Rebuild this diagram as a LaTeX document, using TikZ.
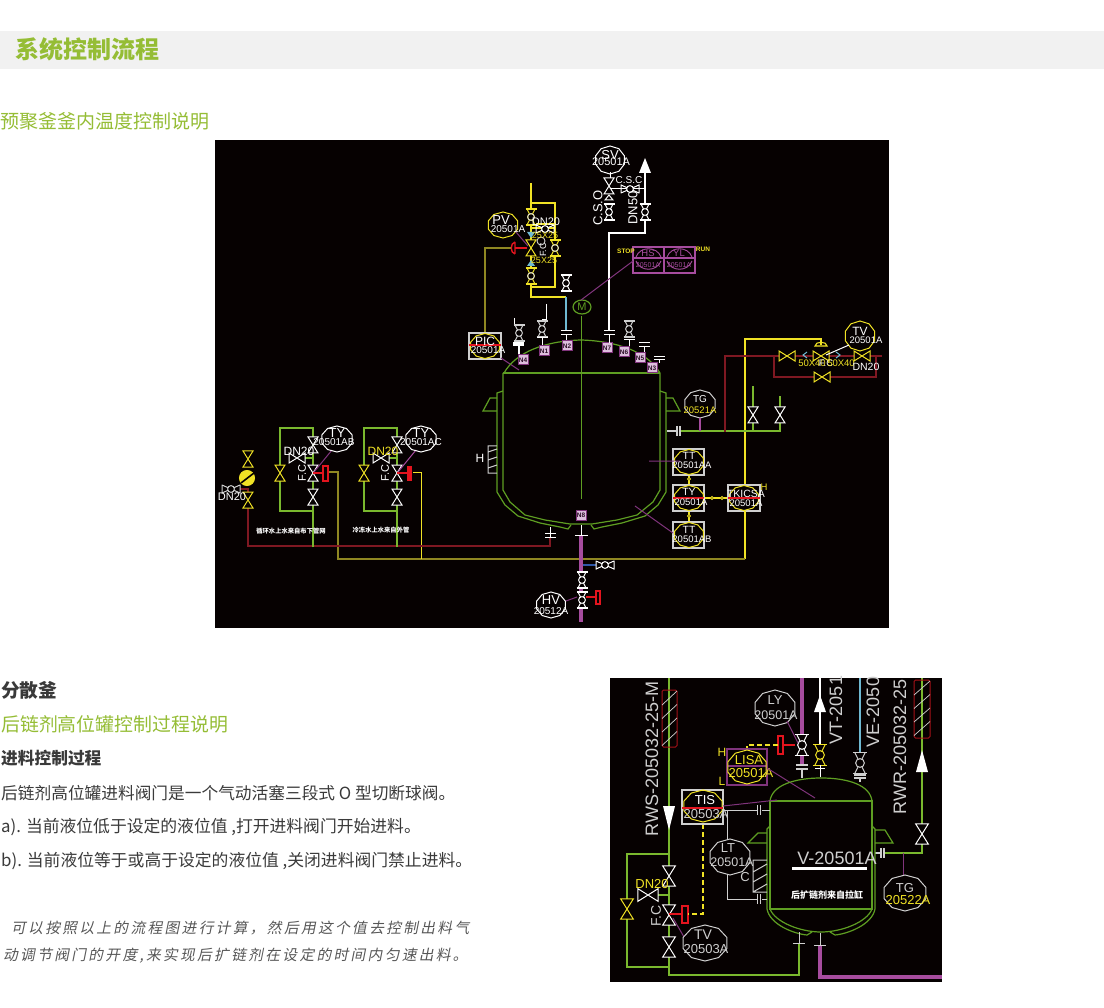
\documentclass[tikz,border=0pt]{standalone}
\usepackage{fontspec}
\setmainfont{Liberation Sans}
\newfontfamily\cjk{Noto Sans CJK SC}
\newfontfamily\cjkit[FakeSlant=0.2,LetterSpace=16]{Noto Sans CJK SC}
\definecolor{pagegreen}{HTML}{95BD35}
\definecolor{band}{HTML}{F1F1F1}
\definecolor{ink}{HTML}{3A3A3A}
\definecolor{panel}{HTML}{060101}
\definecolor{pipegreen}{HTML}{7AB82E}
\definecolor{vesgreen}{HTML}{5E9E22}
\definecolor{cadyellow}{HTML}{F0E225}
\definecolor{olive}{HTML}{8F8722}
\definecolor{darkred}{HTML}{7F1822}
\definecolor{cadred}{HTML}{E3141E}
\definecolor{thickpurple}{HTML}{A64C9E}
\definecolor{thinpurple}{HTML}{80347C}
\definecolor{nozfill}{HTML}{DDBEDD}
\definecolor{cadcyan}{HTML}{6FB9D2}
\definecolor{cadblue}{HTML}{2F57A8}
\definecolor{cadgray}{HTML}{CFCFCF}
\newcounter{nn}
\def\vs{1}
\newcommand\lab[5][white]{\stepcounter{nn}\node[text=#1,inner sep=0pt,font=\fontsize{#4}{#4}\selectfont] (t\thenn) at (#2,#3) {#5};}
\newcommand\rlab[5][white]{\stepcounter{nn}\node[text=#1,inner sep=0pt,rotate=90,font=\fontsize{#4}{#4}\selectfont] (t\thenn) at (#2,#3) {#5};}
\newcommand\vv[3][white]{\draw[#1,line width=1,fill=panel,shift={(#2,#3)},scale=\vs] (-5,-8)--(5,8)--(-5,8)--(5,-8)--cycle;}
\newcommand\hv[3][white]{\draw[#1,line width=1,fill=panel,shift={(#2,#3)},scale=\vs] (-8,-5)--(8,5)--(8,-5)--(-8,5)--cycle;}
\newcommand\bv[3][white]{\begin{scope}[shift={(#2,#3)},scale=\vs]\fill[panel] (-5,-8) rectangle (5,8);\draw[#1,line width=1.3] (-5.5,-8)--(5.5,-8) (-5.5,8)--(5.5,8);\draw[#1,line width=1] (-4,-8)--(4,8) (4,-8)--(-4,8);\draw[#1,line width=1,fill=panel] (0,0) circle (3.4);\end{scope}}
\newcommand\bh[3][white]{\begin{scope}[shift={(#2,#3)},scale=\vs]\draw[#1,line width=1] (-9,-4.5)--(-9,4.5) (9,-4.5)--(9,4.5) (-9,-4)--(9,4) (-9,4)--(9,-4);\draw[#1,line width=1,fill=panel] (0,0) circle (3.4);\end{scope}}
\newcommand\bub[5][white]{\draw[#1,line width=1] plot[domain=18:378,samples=11] ({#2+#4*cos(\x)},{#3+#5*sin(\x)}) -- cycle;}
\newcommand\nz[3]{\draw[thinpurple,line width=1,fill=nozfill] (#1-5,#2-5) rectangle (#1+5,#2+5);\lab[panel!70!thinpurple]{#1}{#2}{6.5}{\textbf{#3}}}
\newcommand\hatchbox[4]{\draw[darkred!70!red,line width=1,rounded corners=1.5] (#1,#2) rectangle (#3,#4);
 \foreach \k in {0,1,2,3}{\draw[cadgray,line width=.7] (#1,#2+15+\k*13.5) -- (#3,#2+1+\k*13.5);}}
\begin{document}
\begin{tikzpicture}[x=1pt,y=-1pt,line cap=butt]
\useasboundingbox (0,0) rectangle (1104,1008);
\fill[white] (0,0) rectangle (1104,1008);
% ---------- page text
\fill[band] (0,31) rectangle (1104,69);
\node[anchor=west,inner sep=0pt,text=pagegreen,font=\cjk\bfseries\fontsize{24}{24}\selectfont] (title) at (15,49) {系统控制流程};
\node[anchor=west,inner sep=0pt,text=pagegreen,font=\cjk\fontsize{19}{19}\selectfont] (sub1) at (0,121) {预聚釜釜内温度控制说明};
\node[anchor=west,inner sep=0pt,text=ink,font=\cjk\bfseries\fontsize{18.7}{19}\selectfont] (h2) at (1,690) {分散釜};
\node[anchor=west,inner sep=0pt,text=pagegreen,font=\cjk\fontsize{18.9}{19}\selectfont] (sub2) at (1,724) {后链剂高位罐控制过程说明};
\node[anchor=west,inner sep=0pt,text=ink,font=\cjk\bfseries\fontsize{16.7}{17}\selectfont] (h3) at (1,758) {进料控制过程};
\node[anchor=west,inner sep=0pt,text=ink,font=\cjk\fontsize{16.7}{17}\selectfont] (p1) at (1,793) {后链剂高位罐进料阀门是一个气动活塞三段式 O 型切断球阀。};
\node[anchor=west,inner sep=0pt,text=ink,font=\cjk\fontsize{16.8}{17}\selectfont] (p2) at (1,827) {a). 当前液位低于设定的液位值 ,打开进料阀门开始进料。};
\node[anchor=west,inner sep=0pt,text=ink,font=\cjk\fontsize{16.8}{17}\selectfont] (p3) at (1,861) {b). 当前液位等于或高于设定的液位值 ,关闭进料阀门禁止进料。};
\node[anchor=west,inner sep=0pt,text=ink!85,font=\cjkit\fontsize{14.7}{15}\selectfont] (p4) at (11,928) {可以按照以上的流程图进行计算，然后用这个值去控制出料气};
\node[anchor=west,inner sep=0pt,text=ink!85,font=\cjkit\fontsize{14.7}{15}\selectfont] (p5) at (3,956) {动调节阀门的开度,来实现后扩链剂在设定的时间内匀速出料。};
% ---------- panel 1
\fill[panel] (215,140) rectangle (889,628);
% yellow vent pipes
\draw[cadyellow,line width=2] (531,183)--(531,297)--(566,297);
\draw[cadyellow,line width=2] (531,203)--(555,203)--(555,287)--(531,287);
\draw[cadyellow,line width=1.5] (531,228)--(555,228) (531,224)--(555,224);
\draw[cadcyan,line width=2] (566,297)--(566,330);
\bv{566}{283}
\draw[white,line width=1] (561,331)--(572,331) (561,335)--(572,335) (566,335)--(566,341);
\bv[cadyellow]{531}{217}\draw[cadgray,line width=.9] (531,217) circle (3.4);
\vv[cadyellow]{531}{248}
\bv[cadyellow]{531}{276}\draw[cadgray,line width=.9] (531,276) circle (3.4);
\bv[cadyellow]{555}{248}\draw[cadgray,line width=.9] (555,248) circle (3.4);
\fill[cadcyan] (527,232)--(535,232)--(531,238)--cycle;
\fill[cadcyan] (531,260)--(527,266)--(535,266)--cycle;
\bh{545}{229}
\draw[cadgray,line width=.9] (541,241) circle (4);
\lab{546}{222}{11}{DN20}
\lab[cadyellow]{545}{235}{9}{25X25}
\lab[cadyellow]{544}{260}{9}{25X25}
\rlab{543}{250}{9}{F.C}
\draw[cadred,line width=1.4] (515,248)--(527,248);
\draw[cadred,line width=1.4] (515,242)--(515,254) (515,242) .. controls (510,243) and (510,253) .. (515,254);
\draw[olive,line width=1.3] (511,248)--(485,248)--(485,333);
\bub[cadyellow]{503}{225}{15.5}{13}
\lab{501}{220}{13}{PV}
\lab{508}{229}{10}{20501A}
\draw[thinpurple,line width=1] (516,232)--(528,246);
\draw[cadgray,line width=1.1] (469,333) rectangle (501,359);
\bub[cadyellow]{485}{346}{15}{12.5}
\draw[cadred,line width=1.1] (469,345)--(501,345);
\lab{485}{341}{12}{PIC}
\lab{488}{350}{10}{20501A}
\draw[thinpurple,line width=1] (501,358)--(519,370);
% vessel panel 1
\draw[vesgreen,line width=1.2] (504,373) .. controls (516,352) and (545,341) .. (581,340) .. controls (617,341) and (648,352) .. (660,373);
\draw[vesgreen,line width=1.2] (503,373)--(660,373);
\draw[vesgreen,line width=1.2] (503,373)--(503,490)--(510,502)--(525,515)--(545,520)--(570,524)--(592,524)--(617,520)--(637,515)--(653,502)--(660,490)--(660,373);
\draw[vesgreen,line width=1.2] (503,391)--(497,393)--(497,492)--(505,505)--(518,516)--(540,523)--(560,527)--(568,529)--(571,525);
\draw[vesgreen,line width=1.2] (660,391)--(666,393)--(666,492)--(658,505)--(645,516)--(622,523)--(602,527)--(594,529)--(591,525);
\draw[vesgreen,line width=1.2] (497,411)--(483,411)--(490,398)--(497,398);
\draw[vesgreen,line width=1.2] (666,411)--(680,411)--(673,398)--(666,398);
\draw[vesgreen,line width=1] (581,316)--(581,499);
\draw[vesgreen,line width=1.2] (582,307) ellipse (9 and 7);
\lab[vesgreen]{582}{307}{11}{M}
\draw[cadgray,line width=1] (497,446)--(488,446)--(488,473)--(497,473) (488,452)--(497,449) (488,460)--(497,457) (488,468)--(497,465);
\lab{480}{458}{12}{H}
% top nozzles
\draw[white,line width=1] (514,318)--(514,325)--(519,325) (546,304)--(546,320)--(542,320);
\bv[cadgray]{519}{333}\bv[cadgray]{542}{329}\bv[cadgray]{629}{329}
\draw[white,line width=1.3] (513,343)--(524,343) (513,345)--(524,345) (519,345)--(519,355);
\draw[white,line width=1] (537,338)--(548,338) (542,338)--(542,346) (624,340)--(635,340) (629,340)--(629,347);
\draw[white,line width=1] (639,343)--(650,343) (639,347)--(650,347) (644,347)--(644,353) (654,357)--(665,357) (654,360)--(665,360) (659,360)--(659,363);
\nz{523}{360}{N4}\nz{544}{351}{N1}\nz{567}{346}{N2}\nz{607}{348}{N7}\nz{624}{352}{N6}\nz{640}{358}{N5}\nz{652}{368}{N3}
% white vent
\draw[white,line width=2] (609,330)--(609,233)--(645,233)--(645,173);
\draw[white,line width=1] (609,189)--(645,189);
\fill[white] (645,158)--(639,173)--(651,173)--cycle;
\bv{609}{212}\bv{645}{212}\bh{630}{189}
\vv{609}{186}\draw[white,line width=1] (609,195) -- (605,200) -- (613,200) -- cycle;
\draw[white,line width=1] (604,331)--(615,331) (604,335)--(615,335) (609,335)--(609,343);
\draw[white,line width=1] (610,172)--(610,178);
\bub{610}{160}{15}{14}
\lab{610}{155}{13}{SV}
\lab{611}{162}{11}{20501A}
\lab{629}{180}{10}{C.S.C}
\rlab{598}{208}{13}{C.S.O}
\rlab{633}{208}{13}{DN50}
% HS YL
\draw[thickpurple,line width=1.1] (633,247) rectangle (695,273) (664,247)--(664,273) (633,258)--(695,258);
\draw[thickpurple,line width=.9] (636,257) .. controls (640,246) and (657,246) .. (661,257) (667,257) .. controls (671,246) and (688,246) .. (692,257);
\draw[thickpurple,line width=.9] (636,261) .. controls (640,272) and (657,272) .. (661,261) (667,261) .. controls (671,272) and (688,272) .. (692,261);
\lab[thickpurple]{648}{253}{9.5}{HS}\lab[thickpurple]{679}{253}{9.5}{YL}
\lab[thickpurple]{648}{265}{7}{20501A}\lab[thickpurple]{679}{265}{7}{20501A}
\lab[cadyellow]{626}{251}{6.5}{\textbf{STOP}}
\lab[cadyellow]{703}{249}{6.5}{\textbf{RUN}}
\draw[thinpurple,line width=1] (633,261)--(581,300);
% right side
\draw[cadyellow,line width=1.1] (745,485)--(745,339)--(821,339)--(821,345);
\draw[darkred,line width=1.8] (725,432)--(725,356)--(882,356);
\draw[darkred,line width=1.8] (774,356)--(774,377)--(876,377)--(876,356);
\draw[cadyellow,line width=1.1] (815,346) .. controls (815,341) and (827,341) .. (827,346) -- cycle;
\hv[cadyellow]{787}{356}\hv[cadyellow]{862}{356}\hv[cadyellow]{822}{377}\hv[cadyellow]{821}{356}
\draw[cadcyan,line width=1] (807,352)--(803,355)--(807,358) (836,352)--(840,355)--(836,358);
\bub[cadyellow]{860}{336}{15.5}{15}
\lab{860}{331}{12}{TV}
\lab{866}{340}{9.5}{20501A}
\draw[white,line width=1] (849,345)--(826,355);
\lab[cadyellow]{812}{363}{9.5}{50X40}
\lab{826}{363}{9.5}{F.C}
\lab[cadyellow]{841}{363}{9.5}{50X40}
\lab{866}{367}{10.5}{DN20}
% green branch
\draw[pipegreen,line width=2] (679,431)--(780,431)--(780,396) (753,431)--(753,386);
\draw[darkred,line width=2.2] (725,356)--(725,432);
\draw[cadgray,line width=1.1] (667,431)--(677,431) (677,426)--(677,436) (680,426)--(680,436);
\vv{753}{415}\vv{780}{415}
\bub[cadgray]{700}{404}{16}{14}
\lab{700}{399}{10}{TG}
\lab[cadyellow]{700}{410}{9.5}{20521A}
\draw[thickpurple,line width=1.1] (700,418)--(700,431);
% T boxes
\draw[cadyellow,line width=1.1] (689,475)--(689,485) (689,511)--(689,522) (704,498)--(728,498);
\foreach \p/\q in {689/479,689/516,712/498,722/498}{\draw[cadyellow,line width=.9,fill=panel] (\p,\q) circle (1.6);}
\foreach \q in {449,485,522}{\draw[cadgray,line width=1.1] (673,\q) rectangle (704,\q+26);\bub[cadyellow]{689}{\q+13}{15}{12.5}}
\draw[cadgray,line width=1.1] (728,485) rectangle (760,511);
\bub[cadyellow]{744}{498}{15}{12.5}
\draw[cadred,line width=1.1] (673,498)--(704,498) (728,498)--(760,498);
\draw[thinpurple,line width=1] (649,461)--(680,461) (635,506)--(673,533);
\lab{689}{456}{10.5}{TT}\lab{692}{465}{9.5}{20501AA}
\lab{689}{492}{10.5}{TY}\lab{691}{502}{9.5}{20501A}
\lab{689}{530}{10.5}{TT}\lab{692}{539}{9.5}{20501AB}
\lab{746}{494}{10.5}{TKICSA}\lab{746}{503}{9.5}{20501A}
\lab[cadyellow]{764}{487}{9.5}{H}
\draw[cadyellow,line width=1.1] (745,511)--(745,559);
% bottom
\draw[olive,line width=1.4] (745,559)--(338,559)--(338,472)--(328,472);
\draw[cadyellow,line width=1] (421,559)--(421,472)--(413,472);
\draw[darkred,line width=1.8] (550,538)--(550,546)--(248,546)--(248,488);
\draw[darkred,line width=1.8] (240,489)--(248,489);
\draw[pipegreen,line width=2] (313,547)--(313,428)--(280,428)--(280,511)--(313,511);
\draw[pipegreen,line width=2] (397,547)--(397,428)--(364,428)--(364,511)--(397,511);
\draw[pipegreen,line width=2] (305,458)--(313,458) (389,458)--(397,458);
\foreach \g/\d in {313/0,397/84}{
 \vv{\g}{445}\vv{\g}{473}\vv{\g}{497}
 \hv{\g-16}{458}
 \vv[cadyellow]{\g-33}{473}
}
\lab{299}{451}{12}{DN20}\lab[cadyellow]{383}{451}{12}{DN20}
\rlab{302}{473}{11}{F.C}\rlab{385}{473}{11}{F.C}
\draw[cadred,line width=1.3] (313,473)--(323,473) (397,473)--(407,473);
\draw[cadred,line width=1.1] (323,466) rectangle (328,481);
\fill[cadred] (407,466) rectangle (412,481);
\draw[thinpurple,line width=1] (332,450)--(314,472);
\draw[thickpurple,line width=1] (416,450)--(398,472);
\bub{337}{439}{16}{13}\bub{421}{439}{16}{13}
\lab{337}{433}{13}{TY}\lab{334}{442}{10}{20501AB}
\lab{421}{433}{13}{TY}\lab{421}{442}{10}{20501AC}
\vv[cadyellow]{248}{459}\vv[cadyellow]{248}{500}
\bh[cadgray]{231}{489}
\draw[cadyellow,line width=1,fill=cadyellow] (247,478) circle (7.5);
\draw[panel,line width=1.6] (241,483)--(254,473);
\lab{232}{497}{11}{DN20}
\lab{291}{531}{6.3}{\cjk\bfseries 循环水上水来自布下管网}
\lab{381}{530}{6.3}{\cjk\bfseries 冷冻水上水来自外管}
% bottom nozzle
\draw[white,line width=1] (550,527)--(550,537) (545,533)--(556,533) (545,537)--(556,537);
\draw[white,line width=1] (581,525)--(581,535) (575,535)--(588,535);
\draw[thickpurple,line width=3.6] (581,536)--(581,622);
\draw[cadblue,line width=1.6] (583,565)--(596,565);
\bh{605}{565}
\bv{582}{580}\bv{582}{600}
\nz{581}{515}{N8}
\draw[cadred,line width=1.3] (586,597)--(596,597);
\draw[cadred,line width=1.1] (596,591) rectangle (600,604);
\bub{551}{605}{15}{13}
\lab{551}{600}{13}{HV}\lab{551}{611}{10}{20512A}
\draw[thinpurple,line width=1] (566,601)--(577,597);
% ---------- panel 2
\def\vs{1.28}
\fill[panel] (610,678) rectangle (942,982);
\draw[pipegreen,line width=2] (669,678)--(669,975)--(799,975)--(799,944);
\draw[pipegreen,line width=2] (669,854)--(627,854)--(627,967)--(669,967);
\draw[pipegreen,line width=2] (657,895)--(669,895);
\hatchbox{662}{690}{677}{747}
\fill[white] (663,806)--(675,806)--(669,830)--cycle;
\vv{669}{876}\vv{669}{915}\vv{669}{947}
\vv[cadyellow]{627}{909}
\hv{648}{895}
\lab[cadyellow]{652}{884}{13}{DN20}
\rlab[cadgray]{656}{916}{14}{F.C}
\draw[cadred,line width=1.2] (669,914)--(682,914);
\draw[cadred,line width=1.1] (682,906) rectangle (688,923);
\draw[cadyellow,line width=1.1,dash pattern=on 5pt off 3pt] (703,824)--(703,914)--(688,914);
\draw[thinpurple,line width=1] (673,918)--(684,937);
\bub[cadgray]{705}{943}{23}{18}
\lab[cadgray]{703}{935}{14}{TV}\lab[cadgray]{706}{949}{13}{20503A}
\rlab[cadgray]{652}{759}{18}{RWS-205032-25-M}
% right
\draw[pipegreen,line width=2] (922,678)--(922,853)--(885,853);
\hatchbox{914}{680}{930}{738}
\fill[white] (922,750)--(916,772)--(928,772)--cycle;
\vv{922}{834}
\rlab[cadgray]{900}{747}{18}{RWR-205032-25}
\draw[cadgray,line width=1.1] (875,853)--(881,853) (881,848)--(881,858) (884,848)--(884,858);
\draw[thinpurple,line width=1] (903,853)--(903,876);
\bub[cadgray]{905}{893}{22}{18}
\lab[cadgray]{905}{888}{13}{TG}\lab[cadyellow]{908}{900}{13}{20522A}
% top pipes
\draw[thickpurple,line width=3.8] (802,678)--(802,738) (802,752)--(802,766);
\draw[white,line width=2.2] (820,678)--(820,747);
\fill[white] (820,695)--(814,712)--(826,712)--cycle;
\draw[cadcyan,line width=2] (860,678)--(860,752);
\bv{802}{745}\bv[cadyellow]{820}{755}\bv[cadgray]{860}{763}
\draw[white,line width=1] (820,765)--(820,777) (815,768)--(825,768);
\draw[cadgray,line width=1.1] (796,765)--(808,765) (796,769)--(808,769) (802,769)--(802,778);
\draw[cadgray,line width=1.1] (854,775)--(866,775) (854,778)--(866,778) (860,778)--(860,782);
\rlab[cadgray]{836}{710}{18}{VT-2051}
\rlab[cadgray]{873}{712}{18}{VE-2050}
\draw[cadred,line width=1.2] (783,745)--(795,745);
\draw[cadred,line width=1.1] (778,736) rectangle (783,754);
\draw[cadyellow,line width=1.1,dash pattern=on 5pt off 3pt] (778,745)--(747,745)--(747,749);
\draw[thinpurple,line width=1.1] (727,749) rectangle (767,785) (727,766)--(767,766);
\bub[cadyellow]{747}{767}{20}{17}
\lab[cadyellow]{722}{752}{12}{H}\lab[cadyellow]{722}{781}{12}{L}
\lab[cadyellow]{749}{760}{13}{LISA}\lab[cadyellow]{751}{773}{13}{20501A}
\draw[thinpurple,line width=1] (767,768)--(815,798);
\bub[cadgray]{775}{708}{21}{18}
\lab[cadgray]{775}{700}{13}{LY}\lab[cadgray]{776}{715}{12.5}{20501A}
\draw[thinpurple,line width=1] (787,721)--(798,743);
% vessel 2
\draw[vesgreen,line width=1.2] (770,801) .. controls (772,785) and (795,778) .. (821,778) .. controls (848,778) and (870,785) .. (872,801);
\draw[vesgreen,line width=1.2] (770,801) rectangle (872,909);
\draw[vesgreen,line width=1.2] (770,909) .. controls (775,922) and (800,932) .. (821,932) .. controls (842,932) and (867,922) .. (872,909);
\draw[vesgreen,line width=1.2] (770,826)--(767,829)--(767,909) .. controls (770,925) and (795,934) .. (807,935)--(812,932);
\draw[vesgreen,line width=1.2] (872,826)--(875,829)--(875,909) .. controls (872,925) and (847,934) .. (835,935)--(830,932);
\draw[vesgreen,line width=1.2] (767,843)--(748,843)--(758,833)--(767,833);
\draw[vesgreen,line width=1.2] (875,843)--(893,843)--(885,830)--(875,830);
\draw[cadgray,line width=1] (767,860)--(753,860)--(753,892)--(767,892) (753,872)--(767,864) (753,882)--(767,874) (753,892)--(767,884);
\lab[cadgray]{745}{877}{13}{C}
\lab[cadgray]{837}{858}{18}{V-20501A}
\fill[white] (792,866.5) rectangle (867,870);
\lab{827}{895}{9}{\cjk\bfseries 后扩链剂来自拉缸}
% TIS
\draw[cadgray,line width=1.1] (682,790) rectangle (723,824);
\bub[cadyellow]{703}{806}{20}{16}
\draw[cadred,line width=1.1] (682,808)--(723,808);
\lab{705}{800}{13}{TIS}\lab[cadgray]{706}{814}{13}{20503A}
\draw[thinpurple,line width=1] (723,806)--(777,800);
\draw[cadgray,line width=1] (723,810)--(757,810) (762,810)--(770,810) (757,805)--(757,815) (760,805)--(760,815);
\draw[cadgray,line width=1] (727,810)--(727,899)--(757,899) (762,899)--(767,899) (757,894)--(757,904) (760,894)--(760,904);
\fill[panel] (730,857) ellipse (20 and 17);
\bub[cadgray]{730}{857}{21}{18}
\lab[cadgray]{728}{848}{13}{LT}\lab[cadgray]{732}{862}{12.5}{20501A}
% bottom nozzles
\draw[cadgray,line width=1] (799,932)--(799,943) (793,943)--(805,943) (820,933)--(820,945) (814,945)--(826,945);
\draw[thickpurple,line width=3.2] (820,946)--(820,977)--(942,977);
\end{tikzpicture}
\end{document}
